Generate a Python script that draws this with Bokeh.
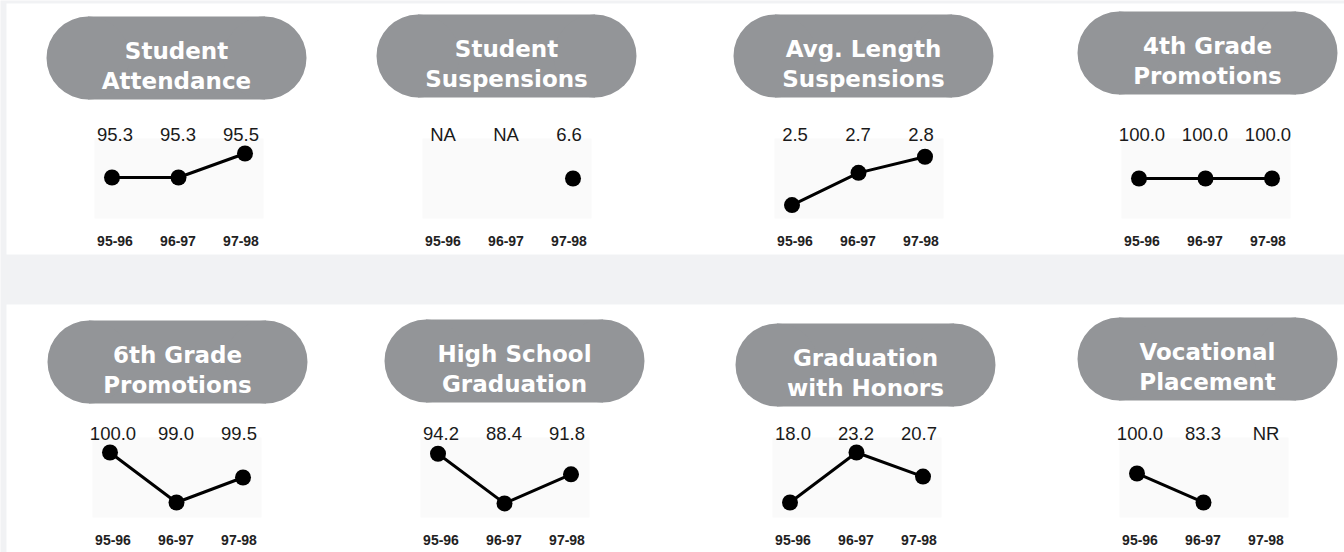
import math
from bokeh.plotting import figure
from bokeh.models import Range1d
from bokeh.core.properties import value
from bokeh.embed import file_html
from bokeh.resources import INLINE

# ---------------- data ----------------
years = ["95-96", "96-97", "97-98"]

title_lines = [
    ["Student", "Attendance"],
    ["Student", "Suspensions"],
    ["Avg. Length", "Suspensions"],
    ["4th Grade", "Promotions"],
    ["6th Grade", "Promotions"],
    ["High School", "Graduation"],
    ["Graduation", "with Honors"],
    ["Vocational", "Placement"],
]

student_attendance = [95.3, 95.3, 95.5]
student_suspensions = [None, None, 6.6]
avg_length_suspensions = [2.5, 2.7, 2.8]
grade4_promotions = [100.0, 100.0, 100.0]
grade6_promotions = [100.0, 99.0, 99.5]
hs_graduation = [94.2, 88.4, 91.8]
graduation_with_honors = [18.0, 23.2, 20.7]
vocational_placement = [100.0, 83.3, None]

missing_label = ["NA", "NA", "NA", "NA", "NA", "NA", "NA", "NR"]

series = [
    student_attendance, student_suspensions, avg_length_suspensions, grade4_promotions,
    grade6_promotions, hs_graduation, graduation_with_honors, vocational_placement,
]

# value windows shown by each small plot (bottom, top)
y_windows = [
    (94.958, 95.625), (6.1, 7.1), (2.417, 2.913), (99.5, 100.5),
    (98.7, 100.3), (86.752, 96.103), (16.44, 24.76), (74.66, 120.73),
]

# ---------------- layout (page pixel coords) ----------------
W, H = 1344, 552
plot_left = [[94, 422, 774, 1121], [92, 420, 772, 1119]]
pill_left = [[46, 376, 733, 1077], [47, 384, 735, 1077]]
pill_top = [[16, 14, 14, 11], [320, 319, 323, 317]]
PILL_W, PILL_H = 260, 83
plot_top = [138, 437]
PLOT_W, PLOT_H = 169, 80
value_base = [134, 433]
tick_base = [240, 539]
bands = [(6, 1344, 3, 254), (6, 1344, 304, 560)]

BG = "#f1f2f4"
PILL = "#939598"
PLOT_BG = "#fafafa"

p = figure(width=W, height=H, output_backend="svg", toolbar_location=None,
           x_range=Range1d(0, W), y_range=Range1d(H, 0),
           x_axis_type=None, y_axis_type=None, min_border=0)
p.background_fill_color = BG
p.border_fill_color = BG
p.outline_line_color = None
p.grid.visible = False

# white bands
p.quad(left=[b[0] for b in bands], right=[b[1] for b in bands],
       top=[b[2] for b in bands], bottom=[b[3] for b in bands],
       fill_color="white", line_color=None)

for i in range(8):
    r, c = divmod(i, 4)
    # pill
    L = pill_left[r][c]
    T = pill_top[r][c]
    rad = PILL_H / 2
    p.quad(left=[L + rad], right=[L + PILL_W - rad], top=[T], bottom=[T + PILL_H],
           fill_color=PILL, line_color=None)
    p.circle(x=[L + rad, L + PILL_W - rad], y=[T + rad, T + rad], radius=rad,
             fill_color=PILL, line_color=None)
    cx = L + PILL_W / 2
    p.text(x=[cx, cx], y=[T + 34, T + 64], text=title_lines[i],
           text_font=value("DejaVu Sans"), text_font_style="bold",
           text_font_size="23px", text_color="white",
           text_align="center", text_baseline="alphabetic")

    # plot area background
    pl = plot_left[r][c]
    pt = plot_top[r]
    p.quad(left=[pl], right=[pl + PLOT_W], top=[pt], bottom=[pt + PLOT_H],
           fill_color=PLOT_BG, line_color=None)

    # scales for this panel: points
    x0 = pl + 17.5
    s = 66.5
    xname = f"x{i}"
    p.extra_x_ranges[xname] = Range1d(-x0 / s, (W - x0) / s)
    # scale for the label columns
    lx0 = pl + 20.5
    ls = 63.0
    lname = f"lx{i}"
    p.extra_x_ranges[lname] = Range1d(-lx0 / ls, (W - lx0) / ls)

    vb, vt = y_windows[i]
    fb = pt + PLOT_H
    ft = pt
    k = (fb - ft) / (vt - vb)
    start = vb - (H - fb) / k
    yname = f"y{i}"
    p.extra_y_ranges[yname] = Range1d(start, start + H / k)

    vals = series[i]
    xs = list(range(len(vals)))
    ys = [float("nan") if v is None else v for v in vals]
    p.line(x=xs, y=ys, x_range_name=xname, y_range_name=yname,
           line_color="black", line_width=3)
    px = [x for x, v in zip(xs, vals) if v is not None]
    py = [v for v in vals if v is not None]
    p.scatter(x=px, y=py, x_range_name=xname, y_range_name=yname,
              size=16, fill_color="black", line_color=None)

    labels = [f"{v:.1f}" if v is not None else missing_label[i] for v in vals]
    p.text(x=xs, y=[value_base[r]] * 3, text=labels, x_range_name=lname,
           text_font=value("Liberation Sans"), text_font_size="18.5px",
           text_color="#1a1a1a", text_align="center", text_baseline="alphabetic")
    p.text(x=xs, y=[tick_base[r]] * 3, text=years, x_range_name=lname,
           text_font=value("Liberation Sans"), text_font_style="bold",
           text_font_size="14px", text_color="#222222",
           text_align="center", text_baseline="alphabetic")

open("out.html", "w").write(file_html(p, INLINE))
